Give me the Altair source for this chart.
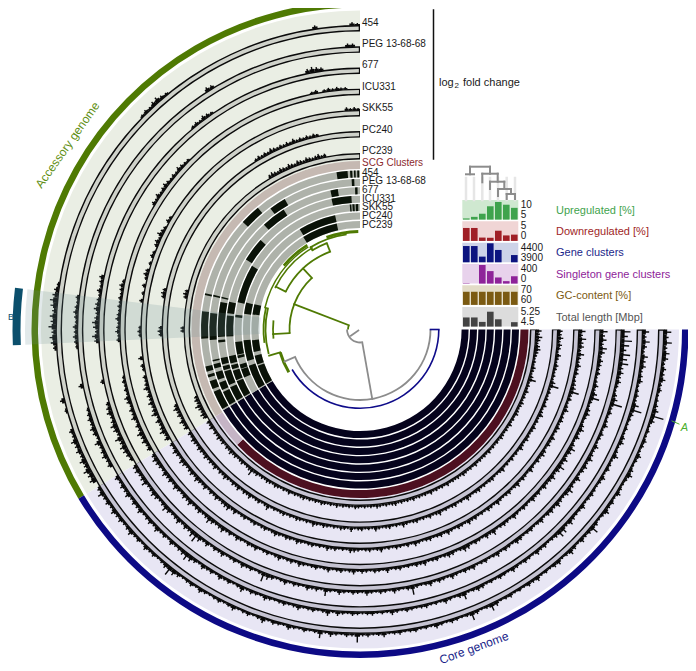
import math
import altair as alt
import pandas as pd

# ---------- labels ----------
GENOMES = ["454", "PEG 13-68-68", "677", "ICU331", "SKK55", "PC240", "PC239"]
PANEL_NAMES = ["Upregulated [%]", "Downregulated [%]", "Gene clusters",
               "Singleton gene clusters", "GC-content [%]", "Total length [Mbp]"]
PANEL_LIMITS = [("10", "5"), ("5", "0"), ("4400", "3900"), ("400", "0"), ("70", "60"), ("5.25", "4.5")]

# ---------- genome bar panels (columns run through the tree's leaf order) ----------
UPREGULATED = [5.3, 5.7, 6.5, 8.4, 9.5, 8.8, 8.0]
DOWNREGULATED = [3.3, 3.3, 0.85, 0.8, 2.6, 1.4, 1.6]
GENE_CLUSTERS = [4315, 4315, 4045, 4385, 4215, 3900, 4085]
SINGLETONS = [8, 0, 380, 255, 125, 50, 150]
GC_CONTENT = [66.7, 66.7, 66.7, 66.7, 66.7, 66.7, 66.7]
TOTAL_LENGTH = [4.85, 4.85, 4.68, 5.07, 4.78, 4.5, 4.67]

# ---------- log2 fold change, core genome, one value per degree from 90 ----------
CORE_1 = [8,5,9,4,7,6,3,5,4,6, 3,4,2,3,4,6,14,5,2,3, 2,4,3,2,5,3,2,4,6,3, 2,3,5,2,4,3,6,3,2,4,
          9,4,3,5,2,4,6,3,2,5, 4,2,3,2,5,3,4,2,3,2, 4,3,2,5,8,3,2,4,9,3, 2,3,4,2,3,5,2,3,2,4,
          3,2,4,3,2,5,3,2,4,3, 10,3,4,2,3,5,2,8,3,2, 4,2,3,5,2,3,4,2,6,3, 2,4,3,2,5,3,2,4,3,2,
          3,5,2,4,3,2,4,6,10,5, 3,2,4,3,5,2,4,3,6,4, 3,5,4,6,3,5,4,7,4]
CORE_2 = [7,4,8,5,3,7,5,6,3,4, 5,2,3,4,3,7,12,4,3,2, 3,2,4,5,2,3,6,2,3,4, 2,5,3,2,3,4,3,2,5,3,
          3,4,6,3,7,8,4,3,2,4, 3,5,2,3,4,2,3,5,2,3, 4,2,3,2,4,5,3,2,8,4, 2,3,5,2,3,2,4,3,2,3,
          4,2,3,5,2,3,2,4,3,2, 3,4,2,3,5,2,6,3,2,4, 3,2,5,3,2,4,3,2,3,5, 2,3,4,2,6,3,2,4,3,5,
          2,4,3,5,2,4,6,8,5,4, 3,5,2,4,3,6,3,5,4,3, 6,4,5,3,6,4,5,3,5]
CORE_3 = [10,7,12,9,6,11,8,10,5,6, 4,5,3,2,4,6,13,3,4,2, 3,5,2,4,3,2,5,3,4,6, 3,5,4,2,6,3,4,7,5,3,
          4,6,3,5,4,2,5,3,2,4, 3,2,4,5,2,3,4,2,5,3, 2,4,3,2,5,3,4,2,3,5, 2,3,4,2,5,3,2,3,10,4,
          2,3,5,2,3,4,2,3,5,2, 3,4,2,3,5,2,3,8,2,4, 3,5,2,3,4,2,5,3,2,4, 6,10,3,2,4,3,5,2,4,3,
          2,5,3,4,2,5,3,6,10,7, 4,5,3,6,4,3,5,7,4,3, 5,6,4,3,7,5,4,6,5]
CORE_4 = [8,5,7,4,8,6,3,5,4,3, 4,2,3,5,3,6,10,3,2,4, 5,3,2,4,6,3,5,2,4,7, 5,3,6,4,8,5,3,6,4,3,
          5,2,4,3,5,2,3,4,2,3, 5,2,3,4,3,2,6,3,5,2, 3,4,2,5,6,3,2,4,5,3, 2,4,3,2,5,3,4,2,3,2,
          4,3,2,5,2,3,4,2,3,4, 2,5,3,2,4,3,2,5,3,2, 4,3,2,3,5,2,4,3,2,5, 3,2,4,3,2,5,3,4,2,3,
          5,2,4,3,6,4,3,5,7,4, 3,5,4,3,6,4,5,3,4,6, 3,5,4,6,3,4,5,6,4]
CORE_5 = [7,4,8,5,6,3,7,4,3,5, 3,4,2,3,4,5,10,3,4,2, 3,5,2,3,4,2,4,3,2,5, 3,4,2,4,5,3,4,2,3,5,
          2,3,4,2,5,3,2,4,3,2, 3,5,2,3,4,2,3,2,4,3, 5,2,3,4,2,3,5,2,4,3, 2,4,3,2,3,5,2,4,2,3,
          4,2,3,2,5,3,2,4,3,2, 3,4,5,2,3,2,4,3,5,2, 3,2,4,3,2,3,5,2,3,4, 2,3,5,3,2,4,3,2,4,3,
          2,4,3,2,5,3,6,5,4,3, 5,3,4,2,5,3,4,6,3,5, 4,3,5,6,3,4,6,3,4]
CORE_6 = [5,4,6,3,5,4,2,5,3,2, 4,3,2,3,2,5,10,2,3,2, 3,2,4,2,3,5,2,3,2,4, 3,2,3,4,2,3,5,2,3,2,
          4,2,3,2,5,3,2,2,4,3, 2,3,2,4,3,2,3,5,2,3, 2,4,3,2,3,2,5,3,2,4, 2,3,2,4,3,2,3,5,2,3,
          2,4,3,2,3,5,2,3,2,4, 3,2,5,2,3,4,2,3,2,3, 4,2,3,5,2,3,2,3,4,2, 3,2,4,3,2,3,2,6,3,2,
          4,3,2,5,3,4,2,5,3,4, 2,3,5,3,4,2,5,3,4,3, 5,3,4,5,3,4,5,3,4]
CORE_7 = [6,4,7,5,3,5,6,4,3,2, 3,2,4,3,2,4,8,2,3,2, 4,2,3,2,4,3,2,3,4,2, 3,2,4,2,3,2,3,4,2,3,
          2,3,2,4,2,3,2,3,2,4, 2,3,2,3,4,2,3,2,3,2, 4,2,3,2,3,2,4,2,3,2, 3,2,4,2,3,2,3,2,4,3,
          2,3,2,3,4,2,3,2,3,2, 3,4,2,3,2,3,2,4,2,3, 2,3,4,2,3,2,3,2,4,3, 2,3,2,4,2,3,2,3,4,2,
          3,4,2,3,2,4,3,8,4,3, 2,4,3,2,4,3,5,3,4,2, 4,3,5,3,4,2,5,3,4]

# ---------- log2 fold change, accessory genome, one value per degree from 240 ----------
ACC_1 = [6,5,7,4,6,3,5,4,6,3, 4,0,0,0,2,0,4,0,0,0, 0,0,0,0,0,0,3,5,6,4, 7,5,6,4,6,7,5,4,2,0,
         0,0,0,0,0,0,0,0,0,0, 0,0,0,0,0,0,0,0,0,0, 0,0,0,0,0,0,0,0,0,0, 0,0,0,0,2,3,2,4,5,3,
         2,0,0,0,0,0,0,0,0,0, 0,0,0,0,0,0,0,0,0,0, 0,0,0,0,0,0,0,0,0,0, 0,3,0,0,0,0,0,0,3,2]
ACC_2 = [0,4,3,5,4,3,6,2,4,5, 3,4,3,2,0,0,0,0,4,0, 0,0,0,0,0,0,2,3,4,3, 4,2,3,4,3,2,3,0,0,0,
         0,0,0,0,0,0,0,0,0,0, 0,0,0,0,0,0,0,0,0,0, 0,0,0,0,0,0,0,0,0,0, 0,0,0,0,0,0,0,0,0,0,
         0,0,0,0,0,0,0,4,3,0, 0,0,0,0,0,0,0,0,0,0, 0,0,0,0,0,0,0,0,0,0, 0,0,0,0,0,0,0,3,3,0]
ACC_3 = [3,4,5,6,4,7,3,5,6,4, 3,5,4,3,0,0,0,0,3,0, 0,0,0,0,0,0,0,4,6,3, 5,6,4,3,5,4,3,2,4,2,
         3,4,0,0,0,0,0,0,0,0, 0,0,0,0,0,0,0,0,0,0, 0,0,0,0,0,0,0,0,0,0, 0,0,0,0,0,0,0,0,0,0,
         2,3,2,4,3,2,0,0,0,0, 0,0,0,0,0,0,0,0,0,0, 0,0,0,0,0,0,0,0,4,5, 4,3,0,0,0,0,0,0,0,0]
ACC_4 = [4,3,5,4,6,3,4,2,5,3, 4,2,4,5,2,3,2,3,2,0, 0,0,0,0,0,0,0,3,2,4, 3,2,4,3,2,3,2,3,2,3,
         4,2,0,0,0,0,0,0,0,0, 0,0,0,0,0,0,0,0,0,0, 0,3,2,4,2,3,4,3,2,3, 2,4,3,2,2,0,0,0,0,0,
         0,0,0,0,0,0,0,0,0,0, 0,0,0,0,0,0,0,0,0,0, 0,0,0,0,0,0,0,0,2,3, 0,2,3,2,3,2,2,0,0,0]
ACC_5 = [5,3,6,4,3,5,2,6,4,3, 5,3,4,2,5,3,2,3,0,2, 3,0,4,0,0,0,0,0,2,3, 2,0,0,0,0,0,0,3,0,2,
         0,3,0,2,4,3,0,2,0,3, 2,0,3,4,2,5,3,2,0,3, 2,0,0,0,0,0,0,0,0,0, 0,0,0,0,0,0,0,0,0,0,
         0,0,0,0,0,0,0,0,0,0, 0,0,0,0,0,0,0,0,0,0, 0,0,0,0,0,0,0,0,0,0, 0,0,0,0,0,0,3,2,3,2]
ACC_6 = [4,3,5,2,4,3,5,3,0,0, 0,0,0,0,0,0,0,0,0,0, 0,0,0,0,0,0,0,0,3,4, 3,0,0,0,0,0,0,0,0,3,
         4,3,0,0,0,0,0,0,0,0, 0,0,0,0,0,0,0,0,0,0, 0,0,0,0,0,0,0,0,0,0, 0,0,0,0,0,0,0,0,0,0,
         0,0,0,0,0,0,0,0,2,3, 2,3,2,4,3,2,3,2,3,2, 4,2,3,2,3,2,3,2,0,0, 0,0,0,0,0,0,0,0,0,0]
ACC_7 = [4,5,3,4,6,3,4,3,0,0, 0,0,0,0,0,0,0,0,0,0, 0,0,0,0,0,0,0,0,0,3, 3,0,0,0,0,0,0,0,0,0,
         3,4,3,0,0,0,0,0,0,0, 0,0,0,0,0,0,0,0,0,0, 0,0,0,0,0,0,0,0,0,0, 0,0,0,0,0,0,0,0,0,0,
         0,0,0,0,0,0,0,0,0,3, 4,3,2,4,3,2,4,3,2,4, 3,2,4,3,2,3,4,2,3,0, 0,0,0,0,0,0,0,0,0,0]

# ---------- single copy gene presence, stretches present in the accessory part ----------
PRESENT_1 = [(240,247),(248,251),(252.4,253.5),(254.6,256.5),(266.7,276.6),(282.5,283.2),(312.5,320),(351.5,355.5),(356.4,357.2),(357.8,358.4),(359,359.7)]
PRESENT_2 = [(240,245.5),(246.3,249.3),(250.5,253.5),(255,256.7),(257.7,258.3),(266,276.3),(282.7,283.3),(323.5,330),(356.8,357.8)]
PRESENT_3 = [(240,246),(247,252.8),(253.4,255),(255.8,258.4),(264.8,265.8),(267,281.2),(282.7,283.3),(317.5,327.5),(348,351),(358,359)]
PRESENT_4 = [(240,247.2),(247.7,252),(252.7,254.5),(255.3,258.5),(267,276),(277,282),(301.5,312),(347.7,356.3)]
PRESENT_5 = [(247.5,251.5),(251.8,253.8),(256.8,258),(258.4,264.3),(275.6,276.8),(282.5,300.5),(355.3,356),(356.5,357.5),(358,359.2)]
PRESENT_6 = [(240,252),(254.4,264.7),(277.7,283.3),(329,347.7)]
PRESENT_7 = [(240,250.5),(251.2,256),(258,264.3),(278,283.5),(328.5,347.6)]

# ---------- gene cluster tree: arcs (from, to, radius, colour key, width), stems (angle, r1, r2, colour key, width) ----------
TREE_ARCS = [(90,247,70.5,"g",1.8),(172,270,13,"g",1.8),(270,291,12,"t",1.8),(90,239.5,78.8,"b",1.6),
             (267,317,70.5,"t",1.8),(297,339,83.4,"t",1.8),(329,339,92.5,"t",1.8),(329,352,96,"t",1.8),
             (340,359,98,"t",2.8),(296,330,94.5,"t",1.5),(283,328,97.5,"t",1.5),(310,328,99.5,"t",2.6),
             (255,283,94.5,"t",1.8),(264,276,87,"t",1.8),(239,254,83,"t",3),(262,283,96.5,"t",1.8)]
TREE_STEMS = [(90,70.5,78.8,"b",1.6),(170,13,70.5,"g",1.8),(236,2,11,"g",1.8),(291,12,70.5,"t",1.8),
              (267,70.5,87,"t",1.8),(317,70.5,83.4,"t",1.8),(339,83.4,92.5,"t",1.8),(329,92.5,96,"t",1.8),
              (297,83.4,94.5,"t",1.8),(283,94.5,97.5,"t",1.5),(254,83,94.5,"t",1.8),(247,70.5,82,"g",1.8)]

# ---------- genome tree, in image pixels ----------
GENOME_TREE = [(470,166.7,490,166.7),(466,174.3,474,174.3),(470,166.7,470,174.3),(482.3,173.7,497.7,173.7),
               (490,166.7,490,173.7),(490,181.7,504.3,181.7),(497.7,173.7,497.7,181.7),(498,189,511,189),
               (504.3,181.7,504.3,189),(506.7,194,515,194),(511,189,511,194),(482.3,173.7,482.3,182.3),
               (490,181.7,490,189),(498,189,498,196),(506.7,194,506.7,199),(515,194,515,199)]

# ---------- geometry ----------
CX, CY = 360.0, 329.5
W, H = 680, 655
PX, PY = CX - 8, CY - 8
XS = alt.Scale(domain=[8 - CX, 8 - CX + W], nice=False, zero=False)
YS = alt.Scale(domain=[CY - 8 - H, CY - 8], nice=False, zero=False)
TS = alt.Scale(domain=[0, 360], range=[0, 2 * math.pi])
RS = alt.Scale(type="linear", domain=[0, 400], range=[0, 400])
BAND_OUT = [304.5, 283.2, 262, 240.8, 219.6, 198.4, 176.5]
BAND_W = 6.5
SCG_OUT = [159 - 8.4 * i for i in range(7)]


def fx(x):
    return x - CX


def fy(y):
    return CY - y


def arc_layer(rows, opacity=1.0):
    df = pd.DataFrame(rows, columns=["t1", "t2", "r1", "r2", "c"])
    return alt.Chart(df).mark_arc(opacity=opacity, strokeWidth=0).encode(
        x=alt.value(PX), y=alt.value(PY),
        theta=alt.Theta("t1:Q", scale=TS, stack=False),
        theta2=alt.Theta2("t2:Q"),
        radius=alt.Radius("r1:Q", scale=RS),
        radius2=alt.Radius2("r2:Q"),
        color=alt.Color("c:N", scale=None),
    )


def rule_layer(rows):
    df = pd.DataFrame(rows, columns=["x", "y", "x2", "y2", "c", "w"])
    return alt.Chart(df).mark_rule(strokeCap="square").encode(
        x=alt.X("x:Q", scale=XS, axis=None), x2="x2:Q",
        y=alt.Y("y:Q", scale=YS, axis=None), y2="y2:Q",
        color=alt.Color("c:N", scale=None),
        strokeWidth=alt.StrokeWidth("w:Q", scale=None),
    )


def rect_layer(rows):
    df = pd.DataFrame(rows, columns=["x", "y", "x2", "y2", "c"])
    return alt.Chart(df).mark_rect(strokeWidth=0).encode(
        x=alt.X("x:Q", scale=XS, axis=None), x2="x2:Q",
        y=alt.Y("y:Q", scale=YS, axis=None), y2="y2:Q",
        color=alt.Color("c:N", scale=None),
    )


def text_layer(rows, **kw):
    df = pd.DataFrame(rows, columns=["x", "y", "t", "c"])
    return alt.Chart(df).mark_text(font="Liberation Sans", baseline="middle", **kw).encode(
        x=alt.X("x:Q", scale=XS, axis=None),
        y=alt.Y("y:Q", scale=YS, axis=None),
        text="t:N",
        color=alt.Color("c:N", scale=None),
    )


layers = []

# backgrounds and outer arcs
layers.append(arc_layer([(239, 360, 168.5, 319, "#eaeee4"), (90, 239, 168.5, 319, "#e8e6f4"),
                         (239, 360, 322, 328.5, "#4f7a03"), (90, 239, 322, 328.5, "#0d0a85")]))

# rings with their bars
band_rows = []
for out in BAND_OUT:
    band_rows.append((90, 360, out - BAND_W, out, "#0a0a0a"))
    band_rows.append((90.25, 239, out - BAND_W + 1.4, out - 1.4, "#c5c3d2"))
    band_rows.append((239, 359.75, out - BAND_W + 1.4, out - 1.4, "#cfd2ca"))
layers.append(arc_layer(band_rows))

bar_rows = []
for out, core, acc in zip(BAND_OUT,
                          [CORE_1, CORE_2, CORE_3, CORE_4, CORE_5, CORE_6, CORE_7],
                          [ACC_1, ACC_2, ACC_3, ACC_4, ACC_5, ACC_6, ACC_7]):
    half = math.degrees(0.7 / out)
    for i, v in enumerate(core):
        # a full-width step for the body of the value, a thin bar for its tip
        bar_rows.append((90 + i, 91 + i, out - 0.5, out + 0.45 * min(v, 6), "#0a0a0a"))
        bar_rows.append((90.5 + i - half, 90.5 + i + half, out - 0.5, out + 0.85 * v, "#0a0a0a"))
    for i, v in enumerate(acc):
        if v > 0:
            bar_rows.append((240 + i, 241 + i, out - 0.5, out + 0.55 * v, "#0a0a0a"))
            bar_rows.append((240.5 + i - half, 240.5 + i + half, out - 0.5, out + v, "#0a0a0a"))
layers.append(arc_layer(bar_rows))

# single copy gene ring
layers.append(arc_layer([(90, 226.8, 160.5, 168.5, "#4d1020"), (226.8, 239, 160.5, 168.5, "#c5b4c5"),
                         (239, 360, 160.5, 168.5, "#c5b9b2")]))

# presence rings
pres_rows = []
for out, segs in zip(SCG_OUT, [PRESENT_1, PRESENT_2, PRESENT_3, PRESENT_4, PRESENT_5, PRESENT_6, PRESENT_7]):
    pres_rows.append((90, 239.5, out - 7, out, "#05031c"))
    pres_rows.append((239.5, 360, out - 7, out, "#aeb2aa"))
    for a, b in segs:
        pres_rows.append((a, b, out - 7, out, "#0a1208"))
layers.append(arc_layer(pres_rows))

# highlight B
layers.append(arc_layer([(267.4, 276.9, 100, 335, "#6f8f98")], opacity=0.2))
layers.append(arc_layer([(267.4, 276.9, 339.5, 347.5, "#0b4f6c")]))

# gene cluster tree
palette = {"t": "#4f7a03", "g": "#8c8c8c", "b": "#0f0c8a"}
layers.append(arc_layer([(a, b, r - w / 2, r + w / 2, palette[k]) for a, b, r, k, w in TREE_ARCS]))
stem_rows = []
for a, r1, r2, k, w in TREE_STEMS:
    s, c = math.sin(math.radians(a)), math.cos(math.radians(a))
    stem_rows.append((r1 * s, r1 * c, r2 * s, r2 * c, palette[k], w))
layers.append(rule_layer(stem_rows))

# genome panels
PANELS = [(UPREGULATED, 5, 10, 200, "#cfe8d0", "#3fa34d", "#3fa34d"),
          (DOWNREGULATED, 0, 5, 221.3, "#f0d5d5", "#a01f26", "#a01f26"),
          (GENE_CLUSTERS, 3900, 4400, 242.7, "#cdd3e8", "#0c1480", "#1b1f8a"),
          (SINGLETONS, 0, 400, 264, "#e8d2ec", "#8e2399", "#8e2399"),
          (GC_CONTENT, 60, 70, 285.3, "#e3dcc8", "#7b5a12", "#7b5a12"),
          (TOTAL_LENGTH, 4.5, 5.25, 307, "#dcdcdc", "#444444", "#555555")]
PANEL_L, COL_W, PANEL_H = 462.3, 8.0, 19.6
bg_rows, bar2_rows, limit_rows, name_rows = [], [], [], []
for (vals, lo, hi, top, bg, col, tc), name, (ltop, lbot) in zip(PANELS, PANEL_NAMES, PANEL_LIMITS):
    bottom = top + PANEL_H
    bg_rows.append((fx(PANEL_L), fy(top), fx(PANEL_L + 7 * COL_W), fy(bottom), bg))
    for i, v in enumerate(vals):
        y = bottom - (v - lo) / (hi - lo) * PANEL_H
        if v > lo:
            bar2_rows.append((fx(PANEL_L + i * COL_W + 0.7), fy(y), fx(PANEL_L + (i + 1) * COL_W - 0.7), fy(bottom), col))
    limit_rows.append((fx(520.7), fy(top + 5), ltop, "#1a1a1a"))
    limit_rows.append((fx(520.7), fy(top + 15), lbot, "#1a1a1a"))
    name_rows.append((fx(556), fy(top + 10.7), name, tc))
layers.append(rect_layer(bg_rows))
layers.append(rect_layer(bar2_rows))

# genome tree
stem_light = [(fx(x), fy(178), fx(x), fy(200), "#e6e6e6", 2.5) for x in [466, 474, 482.3, 490, 498, 506.7, 515]]
layers.append(rule_layer(stem_light))
layers.append(rule_layer([(fx(a), fy(b), fx(c), fy(d), "#8c8c8c", 2) for a, b, c, d in GENOME_TREE]))

# scale bar of the fold change rings
layers.append(rule_layer([(fx(433.5), fy(10), fx(433.5), fy(159), "#111111", 1.5),
                          (fx(672), fy(421), fx(679), fy(424), "#4caf2e", 1)]))

# ring labels
lab1 = [(fx(362), fy(y), g, "#1a1a1a") for g, y in zip(GENOMES, [22.7, 44, 65, 87, 108, 130, 151])]
lab2 = [(fx(362), fy(y), g, "#1a1a1a") for g, y in zip(GENOMES, [173, 181.3, 190, 198.5, 207, 216, 225])]
layers.append(text_layer(lab1 + lab2 + [(fx(362), fy(163.3), "SCG Clusters", "#8b2a2e")] + limit_rows,
                         align="left", fontSize=10))
layers.append(text_layer(name_rows, align="left", fontSize=11))
layers.append(text_layer([(fx(439), fy(83), "log", "#1a1a1a"), (fx(463), fy(83), "fold change", "#1a1a1a")],
                         align="left", fontSize=11))
layers.append(text_layer([(fx(454.5), fy(86), "2", "#1a1a1a")], align="left", fontSize=8))
layers.append(text_layer([(fx(67.5), fy(145), "Accessory genome", "#5f8f14")], align="center", fontSize=12, angle=305))
layers.append(text_layer([(fx(474), fy(648), "Core genome", "#1b1f8a")], align="center", fontSize=12, angle=340))
layers.append(text_layer([(fx(688), fy(428), "A", "#4caf2e")], align="right", fontSize=11, fontStyle="italic"))
layers.append(text_layer([(fx(8), fy(316.7), "B", "#0b4f6c")], align="left", fontSize=9))

chart = alt.layer(*layers).properties(
    width=W, height=H, padding=0, autosize=alt.AutoSizeParams(type="none"),
).configure_view(stroke=None)

chart.save("out.html", embed_options={"renderer": "svg", "actions": False})
